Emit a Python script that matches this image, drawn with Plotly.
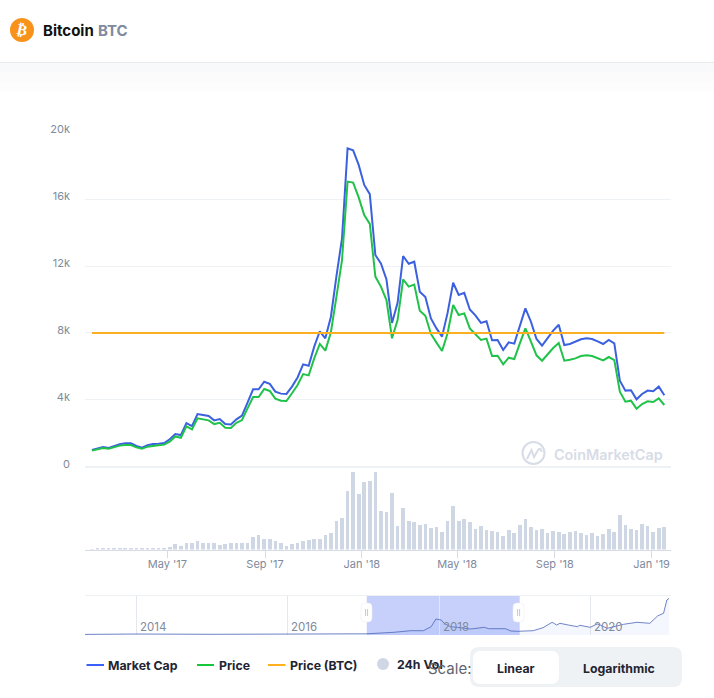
import pandas as pd
import plotly.graph_objects as go

W, H = 714, 698

start_date = "2017-01-26"
market_cap_k = [
 1.0,1.1,1.18,1.12,1.24,1.34,1.4,1.4,1.24,1.14,1.28,1.36,1.38,1.42,1.64,1.95,1.89,2.61,2.43,3.15,
 3.09,3.03,2.77,2.85,2.55,2.53,2.83,3.05,3.83,4.63,4.63,5.08,4.95,4.49,4.37,4.35,4.79,5.34,6.12,6.04,
 7.18,8.1,7.68,8.97,11.4,13.66,19.04,18.92,18.05,16.85,16.3,12.66,12.16,11.2,8.6,9.8,12.6,12.14,12.26,10.47,
 10.15,8.87,8.27,7.78,9.2,11.0,10.27,10.4,9.4,9.05,8.6,8.7,7.56,7.58,6.98,7.44,7.36,8.37,9.47,8.67,
 7.64,7.24,7.72,8.14,8.49,7.28,7.34,7.48,7.62,7.68,7.64,7.5,7.34,7.58,7.38,5.14,4.55,4.57,4.03,4.35,
 4.55,4.51,4.79,4.27]
price_k = [
 0.96,1.06,1.12,1.08,1.18,1.26,1.3,1.3,1.16,1.08,1.2,1.26,1.28,1.32,1.5,1.81,1.73,2.41,2.23,2.89,
 2.83,2.77,2.55,2.63,2.33,2.31,2.63,2.79,3.49,4.17,4.17,4.65,4.53,4.07,3.95,3.93,4.39,4.89,5.54,5.46,
 6.48,7.34,6.94,8.04,10.17,12.36,17.05,16.99,16.11,15.05,14.52,11.37,10.77,9.97,7.68,8.77,11.2,10.77,10.89,9.33,
 9.03,7.94,7.42,6.92,7.98,9.67,9.07,9.17,8.27,7.94,7.58,7.66,6.62,6.64,6.12,6.52,6.44,7.38,8.27,7.48,
 6.66,6.34,6.74,7.1,7.4,6.34,6.4,6.48,6.62,6.66,6.62,6.48,6.36,6.56,6.38,4.49,3.89,3.95,3.47,3.75,
 3.91,3.87,4.09,3.69]
price_btc_level_k = 8.0
volume_b = [
 0.08,0.25,0.25,0.25,0.25,0.25,0.25,0.25,0.25,0.5,0.25,0.25,0.25,0.25,0.6,1.36,1.1,1.62,1.62,2.13,
 1.87,1.87,1.62,1.19,1.45,1.62,1.62,1.7,1.87,3.4,3.74,2.64,2.89,2.13,1.62,1.1,1.36,1.62,2.13,2.55,
 2.64,2.64,3.74,4.42,7.31,8.25,15.13,19.98,14.37,17.43,17.68,19.98,10.03,9.78,14.45,6.21,10.8,7.48,7.23,6.46,
 6.72,5.7,5.95,4.68,7.48,11.31,7.48,7.99,7.23,5.44,6.21,5.19,4.93,4.68,3.66,5.19,4.42,6.46,7.99,5.95,
 5.19,5.44,4.42,4.93,4.68,4.17,4.68,4.93,4.42,3.91,4.42,3.66,4.17,5.44,4.68,9.01,6.46,5.44,5.19,6.72,
 6.21,4.68,5.7,5.95]

y_tick_values = [0, 4, 8, 12, 16, 20]
y_tick_labels = ["0", "4k", "8k", "12k", "16k", "20k"]
month_ticks = ["2017-05-01", "2017-09-01", "2018-01-01", "2018-05-01", "2018-09-01", "2019-01-01"]
month_labels = ["May '17", "Sep '17", "Jan '18", "May '18", "Sep '18", "Jan '19"]

nav_dates = ["2013-04-28","2014-01-01","2015-01-01","2016-01-01","2016-09-01","2017-01-17","2017-05-28","2017-08-18",
 "2017-10-18","2017-11-24","2017-12-17","2018-01-12","2018-01-26","2018-02-25","2018-04-01","2018-06-03",
 "2018-08-08","2018-08-28","2018-11-18","2018-12-14","2019-01-16","2019-04-01","2019-05-18","2019-07-01",
 "2019-07-23","2019-08-08","2019-09-17","2019-10-31","2019-11-12","2020-01-01","2020-02-04","2020-02-18",
 "2020-03-23","2020-06-10","2020-08-14","2020-10-15","2020-11-21","2020-12-20","2021-01-05","2021-01-16"]
nav_values_k = [0.6,1.0,0.7,0.8,1.0,1.2,2.7,4.3,4.3,8.3,16.0,15.0,11.7,8.3,7.7,6.0,
 7.7,6.3,6.3,4.0,3.7,4.3,7.3,12.7,10.0,11.7,10.0,8.3,9.7,7.7,11.0,10.0,6.7,10.7,12.7,11.7,19.0,21.7,35.0,36.7]
nav_years = ["2014-01-01", "2016-01-01", "2018-01-01", "2020-01-01"]
nav_year_labels = ["2014", "2016", "2018", "2020"]

legend_names = ["Market Cap", "Price", "Price (BTC)", "24h Vol"]

BLUE, GREEN, ORANGE, BAR = "#3b60e0", "#21c24a", "#fbb023", "#cfd6e4"
GRID, GREY, DARK = "#eff2f5", "#808a9d", "#222531"
FONT = "Inter"

def px(x): return x / W
def py(y): return 1 - y / H

def rrect(x0, y0, x1, y1, r):
    a, b, c, d = px(x0), py(y0), px(x1), py(y1)
    rx, ry = r / W, r / H
    return (f"M{a+rx},{b} L{c-rx},{b} Q{c},{b} {c},{b-ry} L{c},{d+ry} Q{c},{d} {c-rx},{d} "
            f"L{a+rx},{d} Q{a},{d} {a},{d+ry} L{a},{b-ry} Q{a},{b} {a+rx},{b} Z")

def box(x0, y0, x1, y1, fill, layer="below", line=None, lw=0):
    return dict(type="rect", xref="paper", yref="paper", x0=px(x0), x1=px(x1), y0=py(y0), y1=py(y1),
                fillcolor=fill, line=dict(width=lw, color=line), layer=layer)

def path(d, fill, layer="above", line=None, lw=0):
    return dict(type="path", xref="paper", yref="paper", path=d, fillcolor=fill,
                line=dict(width=lw, color=line), layer=layer)

def seg(x0, y0, x1, y1, color, lw):
    return dict(type="line", xref="paper", yref="paper", x0=px(x0), x1=px(x1), y0=py(y0), y1=py(y1),
                line=dict(color=color, width=lw), layer="above")

def label(x, y, text, size=12.3, color=DARK, anchor="left", weight=None, family=FONT, angle=0):
    f = dict(size=size, color=color, family=family)
    if weight: f["weight"] = weight
    return dict(xref="paper", yref="paper", x=px(x), y=py(y), text=text, showarrow=False,
                xanchor=anchor, yanchor="middle", font=f, textangle=angle)

dates = pd.date_range(start_date, periods=len(price_k), freq="7D")
x_range = ["2017-01-17 06:00", "2019-01-25 10:00"]
nav_range = ["2013-04-28", "2021-01-25"]

fig = go.Figure()
fig.add_trace(go.Bar(x=dates, y=volume_b, name=legend_names[3], marker=dict(color=BAR, line_width=0),
                     width=4.6 * 24 * 3600 * 1000, xaxis="x2", yaxis="y2"))
fig.add_trace(go.Scatter(x=dates, y=market_cap_k, name=legend_names[0], mode="lines",
                         line=dict(color=BLUE, width=2), xaxis="x", yaxis="y"))
fig.add_trace(go.Scatter(x=dates, y=price_k, name=legend_names[1], mode="lines",
                         line=dict(color=GREEN, width=2), xaxis="x", yaxis="y"))
fig.add_trace(go.Scatter(x=dates, y=[price_btc_level_k] * len(dates), name=legend_names[2], mode="lines",
                         line=dict(color=ORANGE, width=2), xaxis="x", yaxis="y"))
fig.add_trace(go.Scatter(x=nav_dates, y=nav_values_k, name="Navigator", mode="lines",
                         line=dict(color="#4c66b8", width=0.8), fill="tozeroy",
                         fillcolor="rgba(56,97,251,0.05)", xaxis="x3", yaxis="y3"))

shapes = [
    box(0, 62, W, 63, "#e9eaec"),
    box(0, 63, W, 72, "#f8f9fa"),
    box(0, 72, W, 82, "#fbfbfc"),
    box(0, 82, W, 92, "#fdfdfe"),
    dict(type="rect", xref="x3", yref="paper", x0=x_range[0], x1=x_range[1], y0=py(635), y1=py(595.5),
         fillcolor="#c6d0fa", line_width=0, layer="below"),
    seg(85, 595.5, 671, 595.5, GRID, 1),
    path(rrect(361, 603, 372, 622, 4), "#ffffff", line="#eceef2", lw=0.6),
    path(rrect(513, 603, 524, 622, 4), "#ffffff", line="#eceef2", lw=0.6),
    seg(365.6, 609, 365.6, 616, "#c4c9d3", 1), seg(367.6, 609, 367.6, 616, "#c4c9d3", 1),
    seg(517.6, 609, 517.6, 616, "#c4c9d3", 1), seg(519.6, 609, 519.6, 616, "#c4c9d3", 1),
    dict(type="circle", xref="paper", yref="paper", x0=px(10), x1=px(34), y0=py(18), y1=py(42),
         fillcolor="#f7931a", line_width=0, layer="above"),
    dict(type="circle", xref="paper", yref="paper", x0=px(522.5), x1=px(544.5), y0=py(464), y1=py(442),
         fillcolor="rgba(0,0,0,0)", line=dict(color="#d7dce6", width=2), layer="above"),
    dict(type="path", xref="paper", yref="paper", fillcolor="rgba(0,0,0,0)", layer="above",
         line=dict(color="#d7dce6", width=2),
         path=f"M{px(527)},{py(459)} L{px(531.5)},{py(450)} L{px(534)},{py(457)} L{px(538)},{py(450)} "
              f"Q{px(541)},{py(447)} {px(541.5)},{py(452)}"),
    seg(86.5, 665, 104, 665, "#3861fb", 2),
    seg(197, 665, 214, 665, "#16c73c", 2),
    seg(268, 665, 285.5, 665, "#ffb21e", 2),
    dict(type="circle", xref="paper", yref="paper", x0=px(377), x1=px(389), y0=py(670), y1=py(658),
         fillcolor=BAR, line_width=0, layer="above"),
    path(rrect(470, 647, 682, 687, 9), "#eff2f5", layer="below"),
    path(rrect(473, 651, 559, 684, 8), "#ffffff", layer="below"),
]

annotations = [
    label(22, 30.5, "₿", size=15, color="#ffffff", anchor="center", weight=700, family="DejaVu Sans", angle=12),
    label(41, 30, '<b>Bitcoin</b> <span style="color:#808a9d"><b>BTC</b></span>', size=15, color="#111111"),
    label(552, 454, "CoinMarketCap", size=14.4, color="#d7dce6", weight=600),
    label(106, 665, f"<b>{legend_names[0]}</b>"),
    label(217, 665, f"<b>{legend_names[1]}</b>"),
    label(288, 665, f"<b>{legend_names[2]}</b>"),
    label(395, 664.5, f"<b>{legend_names[3]}</b>"),
    label(426, 668.5, "Scale:", size=15, color="#5f6570"),
    label(516, 668, "<b>Linear</b>", anchor="center"),
    label(619, 668, "<b>Logarithmic</b>", anchor="center"),
]
for yr, txt in zip(nav_years, nav_year_labels):
    annotations.append(dict(xref="x3", yref="paper", x=yr, y=py(627), text=txt, showarrow=False, xanchor="left",
                            xshift=1.5, yanchor="middle", font=dict(size=11.5, color=GREY, family=FONT)))

fig.update_layout(
    width=W, height=H, margin=dict(l=0, r=0, t=0, b=0, autoexpand=False), autosize=False,
    paper_bgcolor="#ffffff", plot_bgcolor="rgba(0,0,0,0)", showlegend=False, bargap=0,
    font=dict(family=FONT, size=11, color=GREY), shapes=shapes, annotations=annotations,
    xaxis=dict(domain=[px(85), px(671)], range=x_range, type="date", visible=False, anchor="y", automargin=False),
    yaxis=dict(domain=[py(466.7), py(132.3)], range=[0, 20], tickvals=y_tick_values, ticktext=y_tick_labels,
               showgrid=True, gridcolor=GRID, gridwidth=1, zeroline=True, zerolinecolor=GRID, showline=False,
               ticks="", ticklabelstandoff=14, ticklabelshift=-3,
               tickfont=dict(size=11, color=GREY, family=FONT), anchor="x", automargin=False),
    xaxis2=dict(domain=[px(85), px(671)], range=x_range, type="date", anchor="y2", tickvals=month_ticks,
                ticktext=month_labels, ticks="outside", ticklen=7, tickcolor="#d6dbe4", showgrid=False,
                ticklabelstandoff=-3, showline=True, linecolor="#d6dbe4",
                tickfont=dict(size=11, color=GREY, family=FONT), automargin=False),
    yaxis2=dict(domain=[py(549.5), py(466.7)], range=[0, 21.2], visible=False, anchor="x2", automargin=False),
    xaxis3=dict(domain=[px(85), px(671)], range=nav_range, type="date", anchor="y3", tickvals=nav_years,
                ticktext=[""] * len(nav_years), showgrid=True, gridcolor="#e4e7ec", gridwidth=1, ticks="",
                showline=False, zeroline=False, automargin=False),
    yaxis3=dict(domain=[py(635), py(595.5)], range=[0, 39.5], visible=False, anchor="x3", automargin=False),
)

fig.write_html("out.html", post_script="document.body.style.margin='0';document.body.style.overflow='hidden';",
               config=dict(displayModeBar=False, responsive=False))
